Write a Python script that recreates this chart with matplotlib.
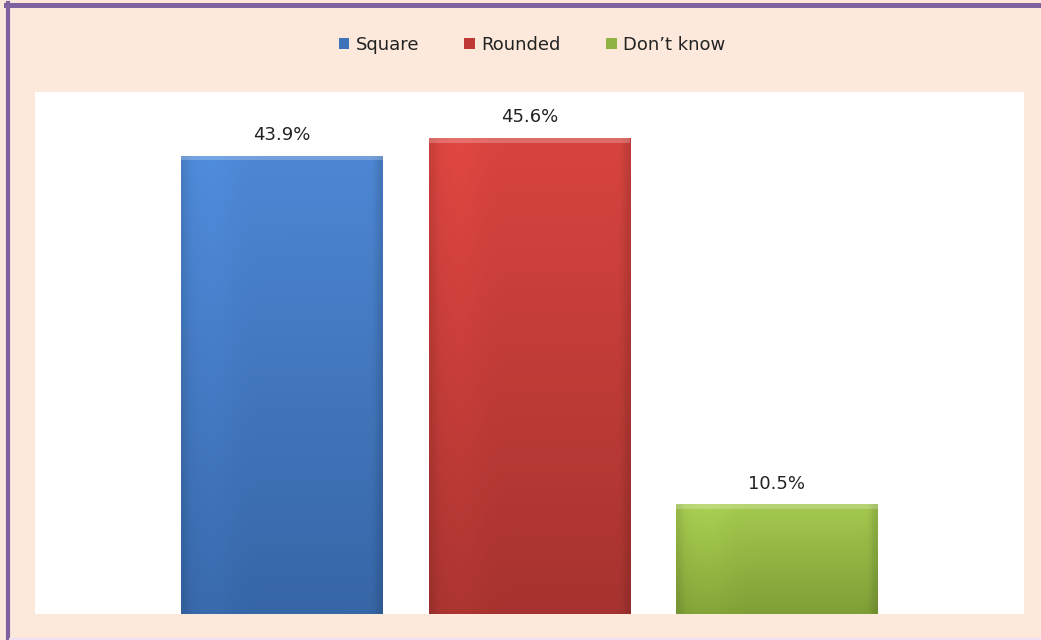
import numpy as np
import matplotlib.pyplot as plt
from matplotlib.patches import Rectangle, Patch
from matplotlib.lines import Line2D

# data
categories = ['Square', 'Rounded', 'Don\u2019t know']
values = [43.9, 45.6, 10.5]
labels = ['43.9%', '45.6%', '10.5%']

# top / bottom colours of each bar
top_colors = ['#4d87d4', '#d8443f', '#a4c94f']
bottom_colors = ['#3666a6', '#a6332f', '#7f9f36']
legend_colors = ['#3e73bb', '#bf3a36', '#8fb444']

fig = plt.figure(figsize=(10.41, 6.40), dpi=100)
fig.patch.set_facecolor('#fde9db')

# purple frame: only top and left edges, light line at bottom
fig.lines.append(Line2D([6 / 1041, 1], [1 - 4.5 / 640] * 2, transform=fig.transFigure,
                        color='#7f63a1', linewidth=3.6))
fig.lines.append(Line2D([8 / 1041] * 2, [0, 1 - 3 / 640], transform=fig.transFigure,
                        color='#7f63a1', linewidth=3.0))
fig.lines.append(Line2D([10 / 1041, 1], [1.5 / 640] * 2, transform=fig.transFigure,
                        color='#f1e1f4', linewidth=1.5))

ax = fig.add_axes([35 / 1041, (640 - 614) / 640, 989 / 1041, 522 / 640])
ax.set_facecolor('white')

x = np.arange(len(categories))
bars = ax.bar(x, values, width=0.815, color=legend_colors, linewidth=0, zorder=2)

# vertical gradient inside each bar
for b, c1, c2 in zip(bars, top_colors, bottom_colors):
    c1 = np.array(plt.matplotlib.colors.to_rgb(c1))
    c2 = np.array(plt.matplotlib.colors.to_rgb(c2))
    t = np.linspace(0, 1, 256)[:, None]
    grad = (c1 * (1 - t) + c2 * t)[:, None, :]
    # light sheen on the left and darker edges
    xs = np.linspace(0, 1, 64)
    shade = 1 + 0.04 * np.exp(-((xs - 0.15) / 0.12) ** 2) - 0.12 * np.exp(-((xs - 1) / 0.03) ** 2) \
        - 0.08 * np.exp(-((xs) / 0.03) ** 2)
    img = np.clip(grad * shade[None, :, None], 0, 1)
    x0, w, h = b.get_x(), b.get_width(), b.get_height()
    im = ax.imshow(img, extent=[x0, x0 + w, 0, h], origin='upper', aspect='auto', zorder=3)
    im.set_clip_path(b)
    # bevel on top
    ax.add_patch(Rectangle((x0, h - 0.45), w, 0.45, facecolor='white', alpha=0.22,
                           linewidth=0, zorder=4))

ax.set_xlim(-1, 3)
ax.set_ylim(0, 50)

for xi, v, lab in zip(x, values, labels):
    ax.text(xi, v + 1.1, lab, ha='center', va='bottom', fontsize=13, color='#222222')

for s in ax.spines.values():
    s.set_visible(False)
ax.set_xticks([])
ax.set_yticks([])

handles = [Patch(facecolor=c, edgecolor='none') for c in legend_colors]
fig.legend(handles, categories, loc='center', bbox_to_anchor=(532 / 1041, 1 - 45 / 640),
           ncol=3, frameon=False, fontsize=13, handlelength=0.6, handleheight=0.6,
           handletextpad=0.35, columnspacing=2.5, labelcolor='#222222')

plt.savefig('out.png', dpi=100, facecolor=fig.get_facecolor())
